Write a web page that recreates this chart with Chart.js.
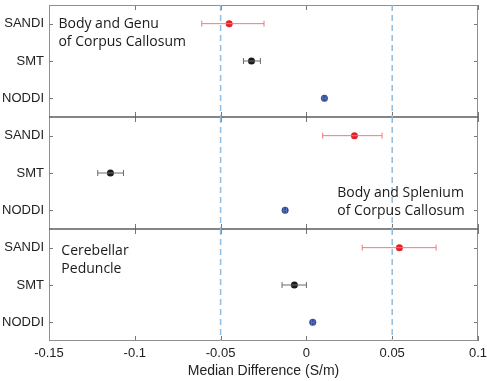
<!DOCTYPE html>
<html>
<head>
  <title>Median Difference (S/m)</title>
  <meta charset="utf-8" />
  <script src="https://cdn.jsdelivr.net/npm/chart.js"></script>
  <style>
    html, body { margin: 0; background: #fff; }
    #wrap { width: 487px; height: 381px; }
  </style>
</head>
<body>
  <div id="wrap"><canvas id="diffChart"></canvas></div>

  <script>
    // methods, top to bottom within each panel
    const methods = ['SANDI', 'SMT', 'NODDI'];

    // region names, one panel each (top to bottom)
    const regionLabels = [
      ['Body and Genu', 'of Corpus Callosum'],
      ['Body and Splenium', 'of Corpus Callosum'],
      ['Cerebellar', 'Peduncle']
    ];

    // median difference and interval ends, order: SANDI, SMT, NODDI
    const genuMedian = [-0.045, -0.032, 0.0105];
    const genuLow    = [-0.061, -0.0367, 0.0095];
    const genuHigh   = [-0.0247, -0.0268, 0.0115];

    const spleniumMedian = [0.028, -0.1142, -0.0124];
    const spleniumLow    = [0.0095, -0.1216, -0.0132];
    const spleniumHigh   = [0.0441, -0.1066, -0.0116];

    const cerebMedian = [0.0542, -0.007, 0.0037];
    const cerebLow    = [0.0325, -0.0142, 0.0029];
    const cerebHigh   = [0.0756, 0.0, 0.0045];

    // vertical reference lines
    const refLines = [-0.05, 0.05];

    // x axis ticks
    const xTicks = [-0.15, -0.1, -0.05, 0, 0.05, 0.1];
    const xTickLabels = ['-0.15', '-0.1', '-0.05', '0', '0.05', '0.1'];

    const panels = [
      { id: 'y1', median: genuMedian, low: genuLow, high: genuHigh },
      { id: 'y2', median: spleniumMedian, low: spleniumLow, high: spleniumHigh },
      { id: 'y3', median: cerebMedian, low: cerebLow, high: cerebHigh }
    ];

    const dotColors = ['#e4212b', '#1b1b1b', '#2f4c9e'];
    const barColors = ['#ef7a80', '#6a6a6a', '#5a72b4'];

    // where the region text sits, in data units (x value, y position)
    const labelAnchor = [[-0.1445, 1.11], [0.018, 2.65], [-0.1428, 1.19]];

    const datasets = [];
    panels.forEach(p => {
      refLines.forEach(v => {
        datasets.push({
          yAxisID: p.id,
          data: [{ x: v, y: 0.5 }, { x: v, y: 3.5 }],
          showLine: true,
          borderColor: '#93bcdd',
          borderWidth: 1.5,
          borderDash: [6, 4],
          pointRadius: 0
        });
      });
      methods.forEach((m, i) => {
        datasets.push({
          yAxisID: p.id,
          data: [{ x: p.low[i], y: i + 1 }, { x: p.high[i], y: i + 1 }],
          showLine: true,
          borderColor: barColors[i],
          borderWidth: 1,
          pointStyle: 'line',
          rotation: 90,
          pointRadius: 3,
          pointBorderColor: barColors[i],
          pointBorderWidth: 1
        });
      });
      datasets.push({
        yAxisID: p.id,
        data: p.median.map((v, i) => ({ x: v, y: i + 1 })),
        pointRadius: 3.5,
        pointBackgroundColor: dotColors,
        pointBorderWidth: 0
      });
    });

    function yScale(id, weight) {
      return {
        type: 'linear',
        position: 'left',
        stack: 'panels',
        stackWeight: 1,
        weight: weight,
        reverse: true,
        min: 0.5,
        max: 3.5,
        afterBuildTicks: s => { s.ticks = [1, 2, 3].map(v => ({ value: v })); },
        afterFit: s => { s.width = 49; s.paddingTop = 0; s.paddingBottom = 0; },
        grid: { display: false, drawTicks: false },
        border: { display: false },
        ticks: {
          padding: 5,
          color: '#222',
          font: { family: '"Liberation Sans", Arial, sans-serif', size: 13 },
          callback: v => methods[v - 1]
        }
      };
    }

    const frame = {
      id: 'frame',
      beforeDatasetsDraw(chart) {
        const { ctx, chartArea: a, scales } = chart;
        const sx = scales.x;
        ctx.save();
        // inner ticks
        ctx.strokeStyle = '#777';
        ctx.lineWidth = 1;
        panels.forEach(p => {
          const s = scales[p.id];
          xTicks.forEach(v => {
            const px = Math.round(sx.getPixelForValue(v)) + 0.5;
            ctx.beginPath();
            ctx.moveTo(px, s.top); ctx.lineTo(px, s.top + 5);
            ctx.moveTo(px, s.bottom); ctx.lineTo(px, s.bottom - 5);
            ctx.stroke();
          });
          [1, 2, 3].forEach(v => {
            const py = Math.round(s.getPixelForValue(v)) + 0.5;
            ctx.beginPath();
            ctx.moveTo(a.left, py); ctx.lineTo(a.left + 4, py);
            ctx.moveTo(a.right, py); ctx.lineTo(a.right - 4, py);
            ctx.stroke();
          });
        });
        // outer box
        ctx.strokeStyle = '#8f8f8f';
        ctx.strokeRect(Math.round(a.left) + 0.5, Math.round(a.top) + 0.5,
          Math.round(a.right - a.left) - 1, Math.round(a.bottom - a.top) - 1);
        // panel dividers
        ctx.strokeStyle = '#5c5c5c';
        ctx.lineWidth = 1.5;
        panels.slice(1).forEach(p => {
          const py = Math.round(scales[p.id].top);
          ctx.beginPath();
          ctx.moveTo(a.left, py); ctx.lineTo(a.right, py);
          ctx.stroke();
        });
        ctx.restore();
      },
      afterDatasetsDraw(chart) {
        const { ctx, scales } = chart;
        ctx.save();
        ctx.fillStyle = '#1a1a1a';
        ctx.font = '14px "Open Sans", sans-serif';
        ctx.textBaseline = 'alphabetic';
        panels.forEach((p, k) => {
          const px = scales.x.getPixelForValue(labelAnchor[k][0]);
          const py = scales[p.id].getPixelForValue(labelAnchor[k][1]);
          regionLabels[k].forEach((line, j) => ctx.fillText(line, px, py + j * 18));
        });
        ctx.restore();
      }
    };

    new Chart(document.getElementById('diffChart'), {
      type: 'scatter',
      data: { datasets: datasets },
      plugins: [frame],
      options: {
        responsive: true,
        maintainAspectRatio: false,
        animation: false,
        layout: { padding: { top: 2, right: 9, left: 0, bottom: 0 } },
        plugins: { legend: { display: false }, tooltip: { enabled: false } },
        scales: {
          x: {
            type: 'linear',
            position: 'bottom',
            min: -0.15,
            max: 0.1,
            afterBuildTicks: s => { s.ticks = xTicks.map(v => ({ value: v })); },
            afterFit: s => { s.height = 40; s.paddingLeft = 0; s.paddingRight = 0; },
            grid: { display: false, drawTicks: false },
            border: { display: false },
            ticks: {
              padding: 5,
              color: '#222',
              font: { family: '"Liberation Sans", Arial, sans-serif', size: 13 },
              callback: (v, i) => xTickLabels[i]
            },
            title: {
              display: true,
              text: 'Median Difference (S/m)',
              color: '#222',
              font: { family: '"Liberation Sans", Arial, sans-serif', size: 14 },
              padding: { top: 0, bottom: 1 }
            }
          },
          y1: yScale('y1', 3),
          y2: yScale('y2', 2),
          y3: yScale('y3', 1)
        }
      }
    });
  </script>
</body>
</html>
